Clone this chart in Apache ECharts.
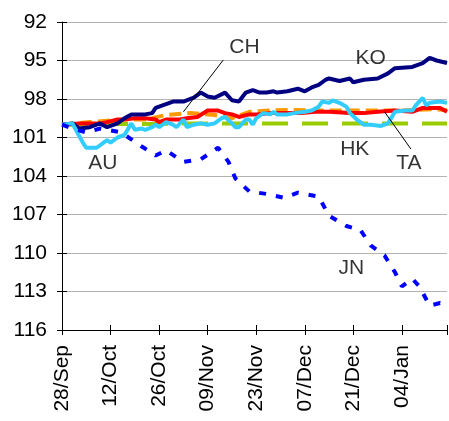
<!DOCTYPE html>
<html>
<head>
<meta charset="utf-8">
<script src="https://cdn.jsdelivr.net/npm/echarts@6/dist/echarts.min.js"></script>
<style>
    html, body { margin: 0; padding: 0; background: #fff; }
    #main { width: 449px; height: 421px; }
</style>
</head>
<body>
<div id="main"></div>
<script>
    // 日期刻度（每14天一个）
    var xTickLabels = ['28/Sep', '12/Oct', '26/Oct', '09/Nov', '23/Nov', '07/Dec', '21/Dec', '04/Jan'];

    // KO
    var koDays = [0, 3, 5, 8, 11, 13, 16, 18, 20, 24, 26, 27, 28, 32, 35, 38, 40, 42, 44, 47, 49, 51, 53, 55, 57, 59, 61, 62, 65, 68, 70, 72, 74, 76, 77, 80, 83, 84, 87, 91, 94, 96, 101, 104, 106, 108, 111];
    var koVals = [100, 99.9, 100.3, 100.2, 99.9, 100.2, 99.9, 99.5, 99.2, 99.2, 99.1, 98.7, 98.6, 98.2, 98.2, 97.9, 97.5, 97.8, 97.9, 97.5, 98.1, 98.2, 97.5, 97.3, 97.5, 97.5, 97.4, 97.5, 97.4, 97.2, 97.4, 97.1, 96.9, 96.5, 96.4, 96.6, 96.4, 96.7, 96.5, 96.4, 96.0, 95.6, 95.5, 95.2, 94.8, 95.0, 95.2];

    // AU
    var auDays = [0, 3, 4, 6, 7, 10, 12, 13, 14, 16, 18, 20, 21, 23, 24, 26, 27, 28, 30, 32, 33, 35, 36, 38, 40, 42, 44, 46, 47, 49, 50, 51, 53, 54, 55, 56, 58, 60, 61, 62, 65, 67, 70, 72, 74, 75, 77, 78, 80, 82, 83, 85, 87, 89, 92, 94, 96, 99, 101, 102, 104, 105, 106, 109, 111];
    var auVals = [100, 99.9, 100.4, 101.4, 101.8, 101.8, 101.4, 101.2, 101.4, 101.0, 100.8, 99.9, 100.4, 100.3, 100.4, 100.2, 100.0, 100.2, 99.8, 100.0, 100.2, 99.6, 100.2, 100.0, 99.9, 100.0, 99.9, 99.5, 99.4, 99.9, 100.2, 100.2, 99.6, 99.6, 100.0, 99.5, 99.1, 99.2, 99.0, 99.2, 99.2, 99.1, 99.0, 98.9, 98.6, 98.2, 98.3, 98.1, 98.3, 98.6, 99.1, 99.6, 100.0, 100.0, 100.1, 99.9, 99.0, 98.9, 98.9, 98.5, 97.9, 98.5, 98.3, 98.2, 98.3];

    // TA
    var taDays = [0, 5, 8, 11, 13, 16, 18, 21, 24, 27, 28, 30, 34, 36, 39, 42, 45, 47, 49, 51, 54, 56, 60, 65, 69, 73, 77, 83, 87, 91, 96, 101, 104, 106, 109, 111];
    var taVals = [100, 99.9, 99.9, 99.9, 99.8, 99.6, 99.6, 99.5, 99.5, 99.6, 99.8, 99.6, 99.6, 99.5, 99.4, 98.9, 98.9, 99.1, 99.2, 99.4, 99.2, 99.2, 99.1, 99.1, 99.1, 99.0, 99.0, 99.1, 99.1, 99.0, 98.9, 99.0, 98.7, 98.7, 98.7, 99.0];

    // CH
    var chDays = [0, 8, 18, 24, 30, 37, 44, 49, 54, 60, 65, 74, 86, 97, 102, 107, 111];
    var chVals = [100, 99.8, 99.6, 99.6, 99.25, 99.1, 99.25, 99.5, 99.0, 98.9, 98.85, 98.9, 98.9, 98.9, 98.85, 98.8, 98.85];

    // HK
    var hkDays = [0, 20, 40, 60, 80, 100, 111];
    var hkVals = [100, 99.95, 99.9, 99.9, 99.9, 99.9, 99.9];

    // JN
    var jnDays = [0, 3, 7, 11, 17, 23, 27, 30, 35, 40, 45, 48, 50, 54, 59, 64, 68, 74, 77, 82, 86, 89, 93, 96, 98, 101, 103, 106, 109, 111];
    var jnVals = [100, 100.3, 100.6, 100.3, 100.6, 101.7, 102.4, 102.0, 102.9, 102.7, 101.8, 102.9, 104.2, 105.2, 105.4, 105.7, 105.3, 105.6, 107.1, 107.9, 108.2, 109.4, 110.2, 111.5, 112.6, 112.0, 112.6, 114.1, 113.9, 114.1];

    // 图中文字标注
    var labelNames = ['CH', 'KO', 'AU', 'HK', 'TA', 'JN'];
    var labelDays = [52.6, 89, 11.8, 84.4, 100, 83.4];
    var labelVals = [94.0, 94.8, 103.0, 101.9, 103.0, 111.2];

    var zip = function (a, b) {
        return a.map(function (d, i) { return [d, b[i]]; });
    };

    var font = 'Liberation Sans, Arial, sans-serif';

    var myChart = echarts.init(document.getElementById('main'));

    var lineSeries = function (name, days, vals, color, width, type) {
        return {
            name: name,
            type: 'line',
            data: zip(days, vals),
            showSymbol: false,
            smooth: false,
            lineStyle: { color: color, width: width, type: type, cap: 'butt' },
            z: 2
        };
    };

    var option = {
        animation: false,
        grid: { left: 62, right: 2, top: 22, bottom: 91 },
        xAxis: [{
            type: 'value',
            min: 0,
            max: 111,
            interval: 14,
            axisLine: { show: true, lineStyle: { color: '#000', width: 1 } },
            axisTick: { show: true, length: 5, lineStyle: { color: '#000' } },
            splitLine: { show: false },
            axisLabel: {
                rotate: 90,
                margin: 15,
                fontSize: 21,
                fontFamily: font,
                color: '#000',
                formatter: function (v) { return xTickLabels[v / 14] || ''; }
            }
        }, {
            type: 'value',
            position: 'bottom',
            min: 0,
            max: 111,
            interval: 14,
            axisLine: { show: false },
            axisTick: { show: true, inside: true, length: 5, lineStyle: { color: '#000' } },
            axisLabel: { show: false },
            splitLine: { show: false }
        }],
        yAxis: [{
            type: 'value',
            inverse: true,
            min: 92,
            max: 116,
            interval: 3,
            axisLine: { show: true, lineStyle: { color: '#000', width: 1 } },
            axisTick: { show: true, length: 5, lineStyle: { color: '#000' } },
            splitLine: { show: true, lineStyle: { color: '#b3b3b3', width: 1 } },
            axisLabel: { margin: 15, fontSize: 21, fontFamily: font, color: '#000' }
        }, {
            type: 'value',
            position: 'left',
            inverse: true,
            min: 92,
            max: 116,
            interval: 3,
            axisLine: { show: false },
            axisTick: { show: true, inside: true, length: 5, lineStyle: { color: '#000' } },
            axisLabel: { show: false },
            splitLine: { show: false }
        }],
        series: [
            lineSeries('HK', hkDays, hkVals, '#99cc00', 4, [26, 14]),
            lineSeries('CH', chDays, chVals, '#ff9900', 4, [12, 6]),
            lineSeries('TA', taDays, taVals, '#ff0000', 4, 'solid'),
            lineSeries('KO', koDays, koVals, '#000080', 4, 'solid'),
            lineSeries('AU', auDays, auVals, '#33ccff', 4, 'solid'),
            lineSeries('JN', jnDays, jnVals, '#0000ff', 4, [7, 10]),
            {
                name: 'labels',
                type: 'scatter',
                symbolSize: 0,
                data: labelDays.map(function (d, i) { return [d, labelVals[i], labelNames[i]]; }),
                label: {
                    show: true,
                    position: 'inside',
                    fontSize: 21,
                    fontFamily: font,
                    color: '#000',
                    formatter: function (p) { return p.data[2]; }
                },
                markLine: {
                    silent: true,
                    symbol: ['none', 'none'],
                    lineStyle: { color: '#000', width: 1, type: 'solid' },
                    label: { show: false },
                    data: [
                        [{ coord: [46.5, 94.96] }, { coord: [35, 99.0] }],
                        [{ coord: [93, 99.0] }, { coord: [100.6, 101.9] }]
                    ]
                },
                z: 5
            }
        ]
    };

    myChart.setOption(option);
</script>
</body>
</html>
